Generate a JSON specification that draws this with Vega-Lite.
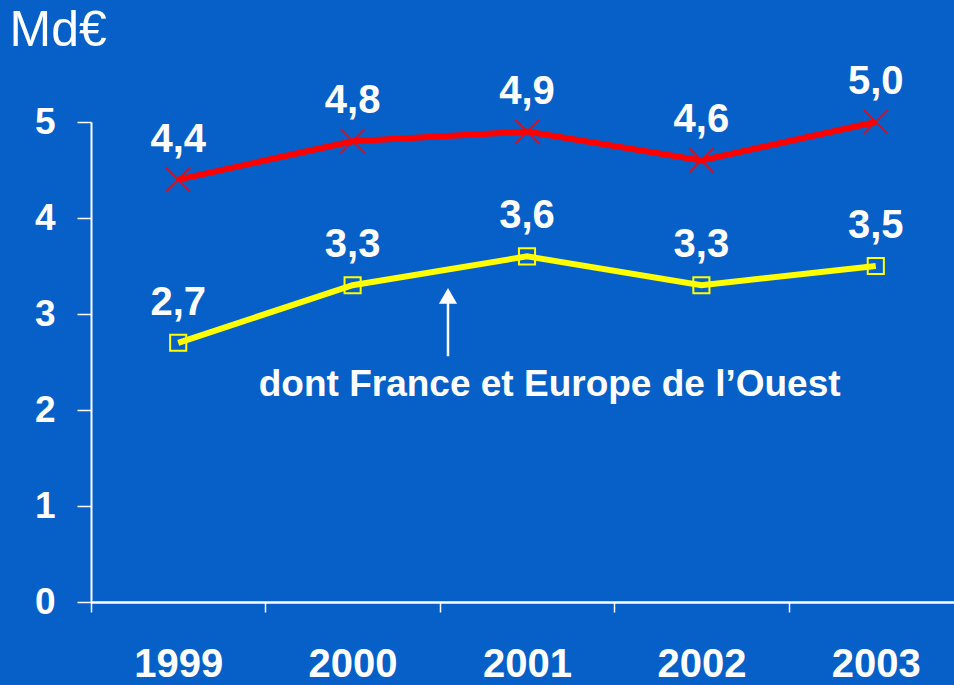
{
  "$schema": "https://vega.github.io/schema/vega-lite/v6.json",
  "autosize": {"type": "none"},
  "width": 863,
  "height": 480,
  "padding": {"left": 91, "top": 122, "right": 0, "bottom": 83},
  "background": "#0660C8",
  "config": {
    "view": {"stroke": null},
    "font": "Liberation Sans",
    "axis": {"domainColor": "white", "tickColor": "white", "labelColor": "white", "grid": false, "labelFont": "Liberation Sans", "labelFontWeight": "bold"}
  },
  "datasets": {
    "series": [
      {"year": "1999", "series": "Total", "value": 4.4, "label": "4,4"},
      {"year": "2000", "series": "Total", "value": 4.8, "label": "4,8"},
      {"year": "2001", "series": "Total", "value": 4.9, "label": "4,9"},
      {"year": "2002", "series": "Total", "value": 4.6, "label": "4,6"},
      {"year": "2003", "series": "Total", "value": 5.0, "label": "5,0"},
      {"year": "1999", "series": "France et Europe de l'Ouest", "value": 2.7, "label": "2,7"},
      {"year": "2000", "series": "France et Europe de l'Ouest", "value": 3.3, "label": "3,3"},
      {"year": "2001", "series": "France et Europe de l'Ouest", "value": 3.6, "label": "3,6"},
      {"year": "2002", "series": "France et Europe de l'Ouest", "value": 3.3, "label": "3,3"},
      {"year": "2003", "series": "France et Europe de l'Ouest", "value": 3.5, "label": "3,5"}
    ],
    "arrow": [
      {"bx": 2.047, "y": 2.56, "y2": 3.15}
    ],
    "arrowhead": [
      {"bx": 2.047, "y": 3.19}
    ],
    "note": [
      {"bx": 2.63, "y": 2.26, "text": "dont France et Europe de l’Ouest"}
    ]
  },
  "layer": [
    {
      "data": {"name": "series"},
      "encoding": {
        "x": {"field": "year", "type": "ordinal", "scale": {"type": "band", "paddingInner": 0, "paddingOuter": 0, "range": [0, 872]},
              "axis": {"title": null, "labelAngle": 0, "labelFontSize": 40, "labelPadding": 32, "tickBand": "extent", "tickSize": 10, "tickWidth": 1.5, "domainWidth": 2.5}},
        "y": {"field": "value", "type": "quantitative", "scale": {"domain": [0, 5], "nice": false},
              "axis": {"values": [0, 1, 2, 3, 4, 5], "format": "d", "labelFontSize": 37, "labelPadding": 22, "tickSize": 14, "tickWidth": 1.5, "domainWidth": 2,
                       "title": "Md€", "titleAngle": 0, "titleAlign": "left", "titleBaseline": "top", "titleX": -82, "titleY": -117,
                       "titleFontSize": 50, "titleFontWeight": "normal", "titleColor": "white", "titleFont": "Liberation Sans"}},
        "color": {"field": "series", "type": "nominal", "scale": {"domain": ["Total", "France et Europe de l'Ouest"], "range": ["#FF0000", "#FFFF00"]}, "legend": null}
      },
      "layer": [
        {"mark": {"type": "line", "strokeWidth": 6}},
        {
          "mark": {"type": "point", "filled": false, "opacity": 1},
          "encoding": {
            "shape": {"field": "series", "type": "nominal", "scale": {"domain": ["Total", "France et Europe de l'Ouest"], "range": ["M-1,-1L1,1M-1,1L1,-1", "square"]}, "legend": null},
            "size": {"field": "series", "type": "nominal", "scale": {"domain": ["Total", "France et Europe de l'Ouest"], "range": [600, 260]}, "legend": null},
            "strokeWidth": {"field": "series", "type": "nominal", "scale": {"domain": ["Total", "France et Europe de l'Ouest"], "range": [1.5, 2]}, "legend": null}
          }
        },
        {
          "mark": {"type": "text", "dy": -40, "fontSize": 40, "fontWeight": "bold", "font": "Liberation Sans"},
          "encoding": {
            "text": {"field": "label"},
            "color": {"value": "white"}
          }
        }
      ]
    },
    {
      "data": {"name": "arrow"},
      "mark": {"type": "rule", "color": "white", "strokeWidth": 2.5},
      "encoding": {
        "x": {"field": "bx", "type": "quantitative", "scale": {"domain": [0, 5], "range": [0, 872]}, "axis": null},
        "y": {"field": "y", "type": "quantitative"},
        "y2": {"field": "y2"}
      }
    },
    {
      "data": {"name": "arrowhead"},
      "mark": {"type": "point", "shape": "triangle-up", "filled": true, "color": "white", "size": 330, "opacity": 1},
      "encoding": {
        "x": {"field": "bx", "type": "quantitative", "scale": {"domain": [0, 5], "range": [0, 872]}, "axis": null},
        "y": {"field": "y", "type": "quantitative"}
      }
    },
    {
      "data": {"name": "note"},
      "mark": {"type": "text", "fontSize": 37, "fontWeight": "bold", "color": "white", "font": "Liberation Sans", "baseline": "middle"},
      "encoding": {
        "x": {"field": "bx", "type": "quantitative", "scale": {"domain": [0, 5], "range": [0, 872]}, "axis": null},
        "y": {"field": "y", "type": "quantitative"},
        "text": {"field": "text"}
      }
    }
  ],
  "resolve": {"scale": {"x": "independent"}}
}
